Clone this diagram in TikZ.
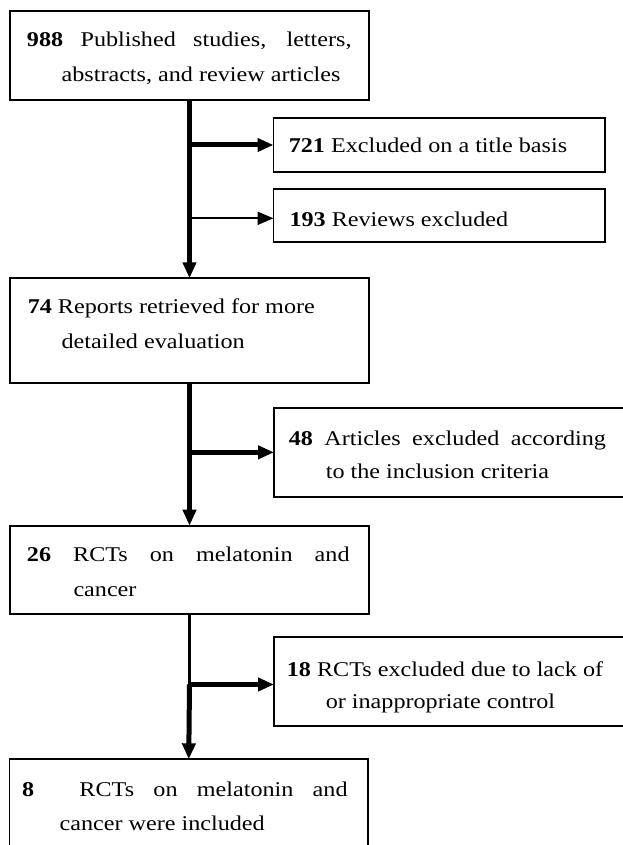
\documentclass[tikz,border=0pt]{standalone}
\usepackage{fontspec}
\setmainfont[FakeStretch=1.15]{Liberation Serif}
\usetikzlibrary{arrows.meta,calc}
\newcommand\twoln[4]{\vtop{\baselineskip=#1\hbox{#2}\hbox{\hspace*{#3}#4}}}
\begin{document}
\begin{tikzpicture}[x=1pt,y=-1pt,
  font=\fontsize{21}{34}\selectfont,
  box/.style={draw, line width=1.8pt, rectangle, inner sep=0pt, outer sep=0pt, anchor=north west},
  txt/.style={inner sep=0pt, outer sep=0pt, anchor=base west},
  thickarrow/.style={line width=5pt, -{Triangle[length=16pt,width=13pt]}},
  thinarrow/.style={line width=2pt, -{Triangle[length=16pt,width=13pt]}},
  thinline/.style={line width=2.5pt}]
\useasboundingbox (0,0) rectangle (623,845);
\clip (0,0) rectangle (623,845);
\fill[white] (0,0) rectangle (623,845);

% boxes
\node[box, minimum width=359pt, minimum height=89pt] (b1) at (10,11) {};
\node[box, minimum width=331.5pt, minimum height=53.4pt] (b721) at (273.5,118.3) {};
\node[box, minimum width=331.5pt, minimum height=53pt] (b193) at (273.5,189.3) {};
\node[box, minimum width=359pt, minimum height=104.4pt] (b74) at (10,278.3) {};
\node[box, minimum width=360pt, minimum height=89.3pt] (b48) at (274,407.7) {};
\node[box, minimum width=359pt, minimum height=88pt] (b26) at (10,525.7) {};
\node[box, minimum width=360pt, minimum height=89pt] (b18) at (274,637) {};
\node[box, minimum width=358.5pt, minimum height=100pt] (b8) at (9.5,759.3) {};

% texts
\node[txt] (t1) at (27,46.7) {\twoln{35pt}{\makebox[324.6pt][s]{\textbf{988} Published studies, letters,}}{34.6pt}{abstracts, and review articles}};
\node[txt] (t721) at (288.8,153) {\textbf{721} Excluded on a title basis};
\node[txt] (t193) at (289.5,226.7) {\textbf{193} Reviews excluded};
\node[txt] (t74) at (27.8,313) {\twoln{35pt}{\textbf{74} Reports retrieved for more}{33.8pt}{detailed evaluation}};
\node[txt] (t48) at (288.8,445) {\twoln{33pt}{\makebox[317.2pt][s]{\textbf{48} Articles excluded according}}{37pt}{to the inclusion criteria}};
\node[txt] (t26) at (27,561.7) {\twoln{35pt}{\makebox[322.6pt][s]{\textbf{26} RCTs on melatonin and}}{46.5pt}{cancer}};
\node[txt] (t18) at (286.9,676.7) {\twoln{31.5pt}{\textbf{18} RCTs excluded due to lack of}{38.9pt}{or inappropriate control}};
\node[txt] (t8) at (22,796.7) {\twoln{33.3pt}{\makebox[57.5pt][l]{\textbf{8}}\makebox[268.1pt][s]{RCTs on melatonin and}}{37.6pt}{cancer were included}};

% junctions
\coordinate (j721) at (b1.south |- b721.west);
\coordinate (j193) at (189.5,218.3);
\coordinate (j48) at (b74.south |- b48.west);
\coordinate (j18) at (189.5,684.5);

% connectors
\draw[thickarrow] (b1.south) -- (b74.north);
\draw[thickarrow] (j721) -- (b721.west);
\draw[thinarrow] (j193) -- (j193 -| b193.west);
\draw[thickarrow] (b74.south) -- (b26.north);
\draw[thickarrow] (j48) -- (b48.west);
\draw[thinline] (b26.south) -- (j18);
\draw[thickarrow] (j18) -- (b8.north);
\draw[thickarrow] (j18) -- (j18 -| b18.west);
\end{tikzpicture}
\end{document}
